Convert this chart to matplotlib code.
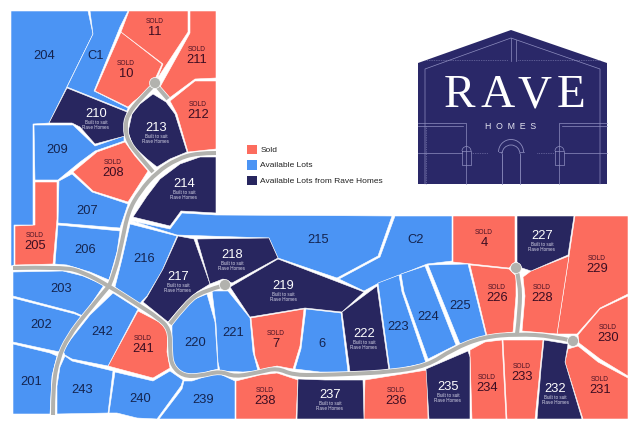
import matplotlib
matplotlib.use("Agg")
import matplotlib.pyplot as plt
from matplotlib.patches import Polygon, Circle, Rectangle, Arc
from matplotlib.path import Path
from matplotlib.patches import PathPatch

# lot outlines (x, y in map pixels)
sold_lots = {
    "10": [(121, 33), (162, 65), (155, 80), (150, 90), (133, 103), (128, 108), (95, 92)],
    "11": [(129, 12), (188, 12), (188, 33), (157, 80), (163, 65), (121, 33)],
    "211": [(190, 12), (216, 12), (216, 79), (195, 80), (168, 100), (160, 88), (190, 34)],
    "212": [(216, 82), (195, 82), (170, 102), (177, 115), (188, 153), (216, 150)],
    "208": [(125, 143), (97, 153), (73, 173), (93, 192), (128, 203), (148, 172), (135, 157)],
    "205": [(35, 183), (57, 183), (57, 220), (53, 265), (15, 266), (15, 227), (35, 226)],
    "241": [(138, 312), (167, 327), (168, 333), (167, 353), (170, 369), (153, 379), (108, 367)],
    "7": [(251, 319), (304, 310), (300, 347), (293, 370), (277, 367), (260, 371), (255, 357)],
    "4": [(453, 217), (515, 217), (515, 263), (509, 269), (453, 263)],
    "229": [(575, 217), (628, 217), (628, 295), (600, 309), (577, 335), (557, 335), (569, 257)],
    "228": [(569, 257), (557, 335), (522, 332), (525, 297), (523, 278), (531, 272)],
    "226": [(470, 266), (509, 270), (516, 277), (516, 297), (513, 333), (487, 337)],
    "230": [(628, 297), (600, 310), (578, 336), (579, 344), (600, 360), (628, 377)],
    "231": [(578, 347), (598, 363), (628, 379), (628, 420), (583, 420), (565, 363), (568, 350)],
    "233": [(503, 341), (543, 341), (535, 420), (507, 420), (504, 360)],
    "234": [(470, 351), (485, 343), (502, 341), (506, 420), (472, 420), (470, 357)],
    "236": [(365, 381), (427, 371), (428, 420), (364, 420)],
    "238": [(236, 382), (260, 376), (277, 374), (298, 381), (296, 420), (236, 420)],
}
open_lots = {
    "204": [(11, 12), (88, 12), (93, 35), (49, 124), (33, 125), (33, 226), (14, 226), (14, 266), (11, 267)],
    "C1": [(90, 12), (128, 12), (120, 28), (94, 92), (128, 109), (127, 112), (67, 88), (93, 35)],
    "209": [(34, 126), (73, 126), (95, 147), (124, 137), (124, 142), (95, 152), (80, 163), (58, 181), (35, 181)],
    "207": [(59, 182), (72, 175), (92, 193), (128, 205), (120, 229), (58, 224)],
    "206": [(58, 226), (120, 232), (117, 253), (109, 281), (90, 273), (67, 266), (55, 265)],
    "203": [(13, 273), (63, 272), (83, 277), (104, 286), (83, 317), (74, 313), (13, 297)],
    "202": [(13, 299), (75, 315), (82, 318), (68, 337), (60, 353), (50, 351), (13, 343)],
    "201": [(13, 345), (50, 354), (57, 357), (52, 377), (50, 415), (13, 415)],
    "243": [(65, 357), (72, 362), (113, 372), (108, 414), (57, 415), (57, 387), (60, 368)],
    "240": [(115, 373), (153, 382), (170, 372), (183, 381), (181, 387), (157, 420), (137, 419), (117, 414), (109, 414)],
    "242": [(113, 294), (138, 310), (108, 367), (72, 360), (65, 356), (63, 352), (71, 340), (90, 316)],
    "216": [(130, 225), (177, 237), (162, 272), (147, 297), (142, 302), (138, 307), (115, 288), (122, 260)],
    "215": [(132, 222), (170, 230), (182, 214), (216, 216), (392, 217), (378, 257), (337, 279), (278, 259), (269, 239), (177, 236)],
    "C2": [(395, 217), (452, 217), (452, 262), (427, 265), (377, 285), (364, 292), (339, 280), (380, 258)],
    "220": [(207, 295), (215, 323), (218, 370), (210, 372), (192, 378), (177, 373), (170, 362), (172, 337), (172, 325), (187, 303)],
    "221": [(212, 292), (228, 292), (250, 319), (253, 353), (258, 372), (243, 373), (220, 372), (218, 363), (216, 325)],
    "6": [(306, 310), (341, 314), (348, 373), (320, 373), (295, 370), (301, 350)],
    "223": [(378, 284), (399, 276), (402, 293), (426, 364), (407, 368), (390, 372)],
    "224": [(401, 275), (425, 267), (456, 346), (428, 360), (404, 293)],
    "225": [(428, 266), (468, 265), (486, 337), (460, 345)],
    "239": [(184, 382), (192, 382), (213, 375), (220, 375), (235, 382), (235, 420), (159, 420), (182, 390)],
}
rave_lots = {
    "213": [(153, 95), (166, 103), (175, 115), (187, 153), (170, 160), (157, 168), (147, 160), (133, 147), (128, 133), (132, 115), (140, 105)],
    "210": [(67, 89), (127, 113), (125, 137), (95, 145), (80, 128), (72, 124), (49, 124)],
    "214": [(216, 158), (200, 158), (180, 165), (160, 180), (147, 197), (135, 215), (133, 218), (170, 227), (181, 212), (216, 214)],
    "217": [(178, 237), (194, 240), (210, 285), (197, 293), (182, 307), (168, 323), (143, 303), (147, 298), (163, 270)],
    "218": [(197, 240), (269, 239), (278, 259), (232, 284), (223, 280), (210, 285)],
    "219": [(278, 260), (364, 293), (342, 313), (305, 309), (250, 318), (230, 288)],
    "222": [(342, 313), (377, 287), (389, 372), (350, 373)],
    "227": [(517, 217), (574, 217), (568, 256), (531, 272), (522, 269), (517, 263)],
    "232": [(544, 341), (568, 345), (565, 363), (582, 420), (537, 420), (541, 370)],
    "235": [(426, 370), (468, 352), (470, 358), (470, 420), (429, 420)],
    "237": [(298, 380), (325, 381), (363, 381), (364, 420), (297, 420)],
}

label_xy = {
    "204": (44, 56), "C1": (96, 56), "10": (126, 74), "11": (155, 32), "211": (197, 60),
    "212": (198, 115), "213": (156, 128), "210": (96, 114), "208": (113, 173), "209": (57, 150),
    "207": (87, 211), "214": (184, 184), "205": (35, 246), "206": (85, 250), "216": (144, 259),
    "217": (178, 277), "218": (232, 255), "215": (318, 240), "C2": (416, 240), "219": (283, 286),
    "203": (61, 289), "202": (41, 325), "242": (102, 332), "241": (143, 349), "220": (195, 343),
    "221": (233, 333), "7": (276, 344), "6": (322, 344), "222": (364, 334), "223": (398, 327),
    "224": (428, 317), "225": (460, 306), "4": (484, 243), "227": (542, 236), "229": (597, 269),
    "226": (497, 298), "228": (542, 298), "230": (608, 338), "231": (600, 390), "232": (555, 389),
    "233": (522, 377), "234": (487, 388), "235": (448, 387), "236": (396, 401), "237": (330, 395),
    "238": (265, 401), "239": (203, 400), "240": (140, 399), "243": (82, 390), "201": (31, 382),
}

# road centre lines and the turning circles at their ends
roads = [
    [(155, 85), (140, 100), (128, 115), (125, 128), (128, 143), (140, 158), (153, 173)],
    [(216, 154), (197, 154), (177, 160), (157, 173), (140, 192), (128, 213), (122, 243), (115, 273), (109, 287)],
    [(13, 269), (63, 268), (83, 273), (109, 287), (140, 307), (157, 318), (170, 330), (170, 353), (172, 367),
     (183, 377), (200, 377), (220, 372), (235, 378), (260, 373), (277, 369), (293, 376), (320, 376), (350, 375),
     (390, 373), (427, 367), (453, 350), (483, 338), (517, 335), (553, 337), (573, 342)],
    [(517, 335), (520, 310), (520, 283), (516, 269)],
    [(109, 287), (87, 313), (68, 338), (58, 360), (53, 387), (53, 416)],
    [(170, 325), (187, 303), (203, 292), (225, 286)],
    [(155, 85), (168, 100)],
]
road_ends = [(155, 84), (225, 286), (516, 269), (573, 342)]

legend_labels = ["Sold", "Available Lots", "Available Lots from Rave Homes"]

CORAL = "#fc6c5e"
BLUE = "#4b94f4"
NAVY = "#28265f"
ROAD = "#b2b2ae"
LOGO = "#2a2868"
LOGO_LINE = "#8f8fc0"
SANS = ["Liberation Sans", "DejaVu Sans"]


def smooth_path(pts):
    # quadratic segments through the midpoints, keeps the end points
    if len(pts) < 3:
        return Path(pts)
    verts = [pts[0]]
    codes = [Path.MOVETO]
    for i in range(1, len(pts) - 1):
        if i < len(pts) - 2:
            end = ((pts[i][0] + pts[i + 1][0]) / 2, (pts[i][1] + pts[i + 1][1]) / 2)
        else:
            end = pts[-1]
        verts += [pts[i], end]
        codes += [Path.CURVE3, Path.CURVE3]
    return Path(verts, codes)


fig = plt.figure(figsize=(6.4, 4.31), dpi=100)
ax = fig.add_axes([0, 0, 1, 1])
ax.set_xlim(0, 640)
ax.set_ylim(431, 0)
ax.axis("off")

for lots, color in ((sold_lots, CORAL), (open_lots, BLUE), (rave_lots, NAVY)):
    for name, outline in lots.items():
        ax.add_patch(Polygon(outline, closed=True, facecolor=color, edgecolor="white", linewidth=0.4, zorder=2))

# roads, white casing first
for road in roads:
    ax.add_patch(PathPatch(smooth_path(road), fill=False, edgecolor="white", linewidth=3.9, capstyle="butt", zorder=3))
for road in roads:
    ax.add_patch(PathPatch(smooth_path(road), fill=False, edgecolor=ROAD, linewidth=2.9, capstyle="butt", zorder=4))
for x, y in road_ends:
    ax.add_patch(Circle((x, y), 5.5, facecolor=ROAD, edgecolor="white", linewidth=0.5, zorder=4))

# lot labels
for name, (x, y) in label_xy.items():
    if name in sold_lots:
        ax.text(x, y, name, ha="center", va="center", family=SANS, fontsize=9.3, color="#3b0d22", zorder=5)
        ax.text(x, y - 10.5, "SOLD", ha="center", va="center", family=SANS, fontsize=4.8, color="#4a1225", zorder=5)
    elif name in open_lots:
        ax.text(x, y, name, ha="center", va="center", family=SANS, fontsize=9.3, color="#14244f", zorder=5)
    else:
        ax.text(x, y, name, ha="center", va="center", family=SANS, fontsize=9.3, color="white", zorder=5)
        ax.text(x, y + 11, "Built to suit\nRave Homes", ha="center", va="center", family=SANS, fontsize=3.3,
                color="#d5d5e6", linespacing=0.95, zorder=5)

# legend
for i, (label, color) in enumerate(zip(legend_labels, (CORAL, BLUE, NAVY))):
    y = 150.5 + i * 15.5
    ax.add_patch(Rectangle((247, y - 4.7), 9.5, 9.5, facecolor=color, edgecolor="none"))
    ax.text(260.5, y, label, ha="left", va="center", family=SANS, fontsize=6.0, color="#222222")

# logo block
ax.add_patch(Polygon([(418, 64), (511, 31), (607, 64), (607, 185), (418, 185)], closed=True, facecolor=LOGO, edgecolor="none"))
logo_lines = [
    [(425, 185), (425, 70), (511, 39), (600, 70), (600, 185)],
    [(511, 39), (511, 62)], [(516, 41), (516, 62)],
    [(418, 124), (466, 124), (466, 185)], [(418, 127), (463, 127)],
    [(607, 124), (559, 124), (559, 185)], [(607, 127), (562, 127)],
    [(418, 154), (462, 154)], [(564, 154), (607, 154)],
]
for line in logo_lines:
    ax.plot(*zip(*line), color=LOGO_LINE, linewidth=0.5)
for line in ([(425, 61), (508, 61)], [(518, 61), (600, 61)], [(471, 154), (488, 154)], [(537, 154), (554, 154)], [(426, 127), (426, 185)]):
    ax.plot(*zip(*line), color=LOGO_LINE, linewidth=0.5, linestyle=(0, (1, 1.5)))
ax.plot([502, 502], [155, 185], color=LOGO_LINE, linewidth=0.6)
ax.plot([520, 520], [155, 185], color=LOGO_LINE, linewidth=0.6)
ax.add_patch(Arc((511, 155), 18, 18, theta1=180, theta2=360, edgecolor=LOGO_LINE, linewidth=0.6))
ax.add_patch(Arc((511, 153), 25, 25, theta1=180, theta2=360, edgecolor=LOGO_LINE, linewidth=0.6))
ax.plot([498.5, 502], [153, 153], color=LOGO_LINE, linewidth=0.5)
ax.plot([520, 523.5], [153, 153], color=LOGO_LINE, linewidth=0.5)
for wx in (462, 555):
    ax.plot([wx, wx, wx + 9, wx + 9, wx], [152, 166, 166, 152, 152], color=LOGO_LINE, linewidth=0.5)
    ax.add_patch(Arc((wx + 4.5, 152), 9, 9, theta1=180, theta2=360, edgecolor=LOGO_LINE, linewidth=0.5))

for letter, x in zip("RAVE", (459, 498, 535, 571)):
    ax.text(x, 96, letter, ha="center", va="center", family="Liberation Serif", fontsize=34, color="white")
ax.text(511, 127, "H  O  M  E  S", ha="center", va="center", family="Liberation Sans", fontsize=6.3, color="#e4e4f0")

fig.savefig("out.png", dpi=100, facecolor="white")
